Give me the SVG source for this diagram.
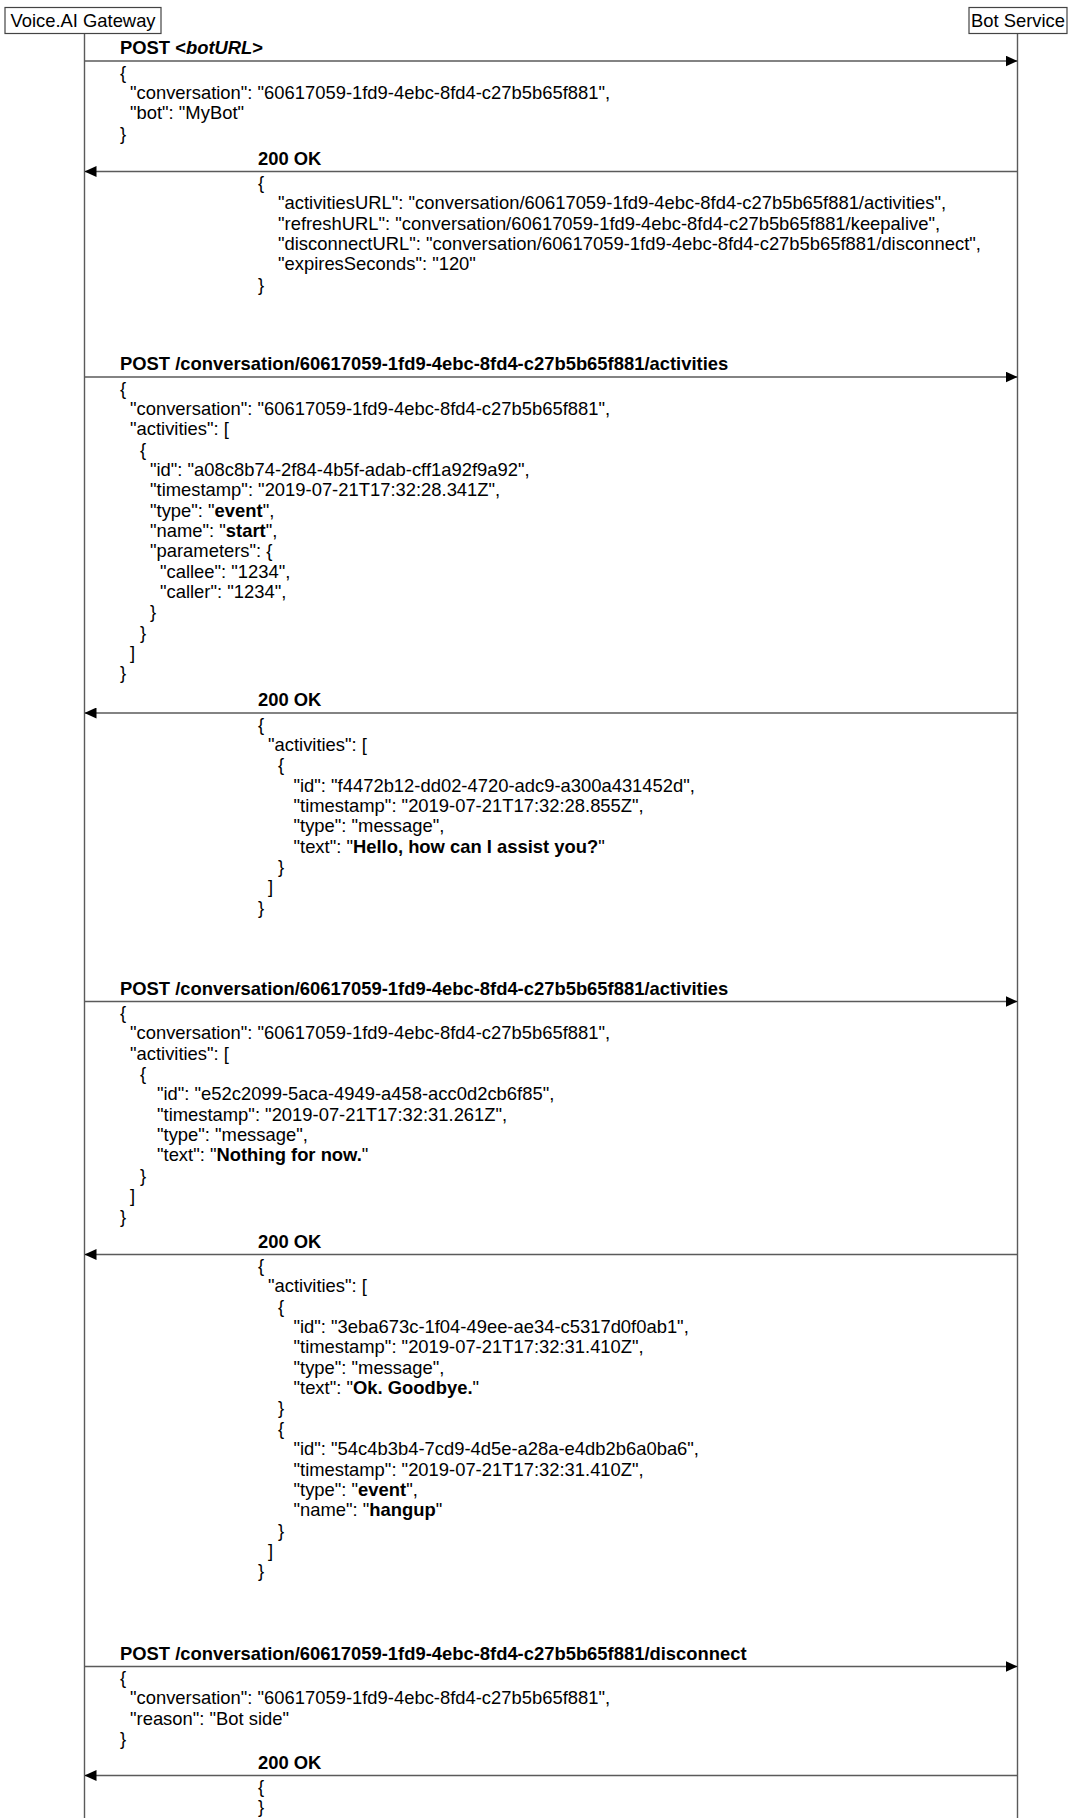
<svg xmlns="http://www.w3.org/2000/svg" width="1071" height="1818" viewBox="0 0 1071 1818">
<style>
text{font-family:"Liberation Sans",Arial,sans-serif;font-size:18.4px;fill:#000}
.b{font-weight:bold}
.i{font-style:italic}
.ll{stroke:#5a5a5a;stroke-width:1.4;fill:none}
.box{fill:#fff;stroke:#444;stroke-width:1.2}
.msg{stroke:#5a5a5a;stroke-width:1.4;fill:none;marker-end:url(#ah)}
</style>
<defs>
<marker id="ah" markerUnits="userSpaceOnUse" markerWidth="12" markerHeight="11" refX="12" refY="5.5" orient="auto">
<path d="M0,0 L12,5.5 L0,11 z" fill="#000"/>
</marker>
</defs>
<rect width="1071" height="1818" fill="#fff"/>
<g id="gateway">
<line class="ll" x1="84.5" y1="33.5" x2="84.5" y2="1818"/>
<rect class="box" x="5" y="7.5" width="156" height="26"/>
<text x="83" y="27" text-anchor="middle">Voice.AI Gateway</text>
</g>
<g id="botservice">
<line class="ll" x1="1017.5" y1="33.5" x2="1017.5" y2="1818"/>
<rect class="box" x="969" y="7.5" width="98" height="26"/>
<text x="1018" y="27" text-anchor="middle">Bot Service</text>
</g>
<g id="connectors">
<line class="msg" x1="84.5" y1="61" x2="1017.5" y2="61"/>
<text class="b" x="120" y="54">POST &lt;<tspan class="i">botURL</tspan>&gt;</text>
<line class="msg" x1="1017.5" y1="171.5" x2="84.5" y2="171.5"/>
<text class="b" x="258" y="164.5">200 OK</text>
<line class="msg" x1="84.5" y1="377" x2="1017.5" y2="377"/>
<text class="b" x="120" y="370">POST /conversation/60617059-1fd9-4ebc-8fd4-c27b5b65f881/activities</text>
<line class="msg" x1="1017.5" y1="713" x2="84.5" y2="713"/>
<text class="b" x="258" y="706">200 OK</text>
<line class="msg" x1="84.5" y1="1001.5" x2="1017.5" y2="1001.5"/>
<text class="b" x="120" y="994.5">POST /conversation/60617059-1fd9-4ebc-8fd4-c27b5b65f881/activities</text>
<line class="msg" x1="1017.5" y1="1254.5" x2="84.5" y2="1254.5"/>
<text class="b" x="258" y="1247.5">200 OK</text>
<line class="msg" x1="84.5" y1="1666.5" x2="1017.5" y2="1666.5"/>
<text class="b" x="120" y="1659.5">POST /conversation/60617059-1fd9-4ebc-8fd4-c27b5b65f881/disconnect</text>
<line class="msg" x1="1017.5" y1="1775.5" x2="84.5" y2="1775.5"/>
<text class="b" x="258" y="1768.5">200 OK</text>
</g>
<g id="body1">
<text x="120" y="78.5">{</text>
<text x="130" y="98.85">"conversation": "60617059-1fd9-4ebc-8fd4-c27b5b65f881",</text>
<text x="130" y="119.2">"bot": "MyBot"</text>
<text x="120" y="139.55">}</text>
</g>
<g id="body2">
<text x="258" y="189">{</text>
<text x="278" y="209.35">"activitiesURL": "conversation/60617059-1fd9-4ebc-8fd4-c27b5b65f881/activities",</text>
<text x="278" y="229.7">"refreshURL": "conversation/60617059-1fd9-4ebc-8fd4-c27b5b65f881/keepalive",</text>
<text x="278" y="250.05">"disconnectURL": "conversation/60617059-1fd9-4ebc-8fd4-c27b5b65f881/disconnect",</text>
<text x="278" y="270.4">"expiresSeconds": "120"</text>
<text x="258" y="290.75">}</text>
</g>
<g id="body3">
<text x="120" y="394.5">{</text>
<text x="130" y="414.85">"conversation": "60617059-1fd9-4ebc-8fd4-c27b5b65f881",</text>
<text x="130" y="435.2">"activities": [</text>
<text x="140" y="455.55">{</text>
<text x="150" y="475.9">"id": "a08c8b74-2f84-4b5f-adab-cff1a92f9a92",</text>
<text x="150" y="496.25">"timestamp": "2019-07-21T17:32:28.341Z",</text>
<text x="150" y="516.6">"type": "<tspan class="b">event</tspan>",</text>
<text x="150" y="536.95">"name": "<tspan class="b">start</tspan>",</text>
<text x="150" y="557.3">"parameters": {</text>
<text x="160" y="577.65">"callee": "1234",</text>
<text x="160" y="598">"caller": "1234",</text>
<text x="150" y="618.35">}</text>
<text x="140" y="638.7">}</text>
<text x="130" y="659.05">]</text>
<text x="120" y="679.4">}</text>
</g>
<g id="body4">
<text x="258" y="730.5">{</text>
<text x="268" y="750.85">"activities": [</text>
<text x="278" y="771.2">{</text>
<text x="293.5" y="791.55">"id": "f4472b12-dd02-4720-adc9-a300a431452d",</text>
<text x="293.5" y="811.9">"timestamp": "2019-07-21T17:32:28.855Z",</text>
<text x="293.5" y="832.25">"type": "message",</text>
<text x="293.5" y="852.6">"text": "<tspan class="b">Hello, how can I assist you?</tspan>"</text>
<text x="278" y="872.95">}</text>
<text x="268" y="893.3">]</text>
<text x="258" y="913.65">}</text>
</g>
<g id="body5">
<text x="120" y="1019">{</text>
<text x="130" y="1039.35">"conversation": "60617059-1fd9-4ebc-8fd4-c27b5b65f881",</text>
<text x="130" y="1059.7">"activities": [</text>
<text x="140" y="1080.05">{</text>
<text x="157" y="1100.4">"id": "e52c2099-5aca-4949-a458-acc0d2cb6f85",</text>
<text x="157" y="1120.75">"timestamp": "2019-07-21T17:32:31.261Z",</text>
<text x="157" y="1141.1">"type": "message",</text>
<text x="157" y="1161.45">"text": "<tspan class="b">Nothing for now.</tspan>"</text>
<text x="140" y="1181.8">}</text>
<text x="130" y="1202.15">]</text>
<text x="120" y="1222.5">}</text>
</g>
<g id="body6">
<text x="258" y="1272">{</text>
<text x="268" y="1292.35">"activities": [</text>
<text x="278" y="1312.7">{</text>
<text x="293.5" y="1333.05">"id": "3eba673c-1f04-49ee-ae34-c5317d0f0ab1",</text>
<text x="293.5" y="1353.4">"timestamp": "2019-07-21T17:32:31.410Z",</text>
<text x="293.5" y="1373.75">"type": "message",</text>
<text x="293.5" y="1394.1">"text": "<tspan class="b">Ok. Goodbye.</tspan>"</text>
<text x="278" y="1414.45">}</text>
<text x="278" y="1434.8">{</text>
<text x="293.5" y="1455.15">"id": "54c4b3b4-7cd9-4d5e-a28a-e4db2b6a0ba6",</text>
<text x="293.5" y="1475.5">"timestamp": "2019-07-21T17:32:31.410Z",</text>
<text x="293.5" y="1495.85">"type": "<tspan class="b">event</tspan>",</text>
<text x="293.5" y="1516.2">"name": "<tspan class="b">hangup</tspan>"</text>
<text x="278" y="1536.55">}</text>
<text x="268" y="1556.9">]</text>
<text x="258" y="1577.25">}</text>
</g>
<g id="body7">
<text x="120" y="1684">{</text>
<text x="130" y="1704.35">"conversation": "60617059-1fd9-4ebc-8fd4-c27b5b65f881",</text>
<text x="130" y="1724.7">"reason": "Bot side"</text>
<text x="120" y="1745.05">}</text>
</g>
<g id="body8">
<text x="258" y="1793">{</text>
<text x="258" y="1813.35">}</text>
</g>
</svg>
